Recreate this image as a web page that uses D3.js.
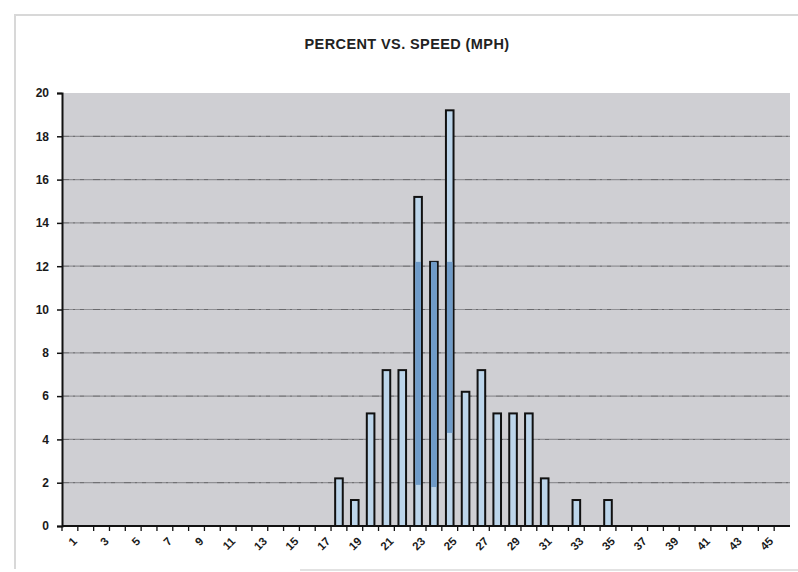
<!DOCTYPE html>
<html>
<head>
<meta charset="utf-8">
<script src="https://cdn.jsdelivr.net/npm/d3@7"></script>
<style>
  body { margin: 0; background: #fff; }
  text { font-family: "Liberation Sans", Arial, sans-serif; }
</style>
</head>
<body>
<svg id="chart" width="798" height="572"></svg>
<script>
// --- Data ---
const speeds = d3.range(1, 47);            // 1..46 mph categories
const speedLabels = speeds.filter(d => d % 2 === 1);
const percentSpeeds = [18, 19, 20, 21, 22, 23, 24, 25, 26, 27, 28, 29, 30, 31, 33, 35];
const percentValues = [2.2, 1.2, 5.2, 7.2, 7.2, 15.2, 12.2, 19.2, 6.2, 7.2, 5.2, 5.2, 5.2, 2.2, 1.2, 1.2];
// darker shaded band seen inside the central bars
const shadeSpeeds = [23, 24, 25];
const shadeLow = [1.9, 1.8, 4.3];
const shadeHigh = [12.2, 12.2, 12.2];
const yTicks = [0, 2, 4, 6, 8, 10, 12, 14, 16, 18, 20];

const bars = percentSpeeds.map((s, i) => ({ speed: s, value: percentValues[i] }));
const shades = shadeSpeeds.map((s, i) => ({ speed: s, lo: shadeLow[i], hi: shadeHigh[i] }));

// --- Setup ---
const svg = d3.select("#chart");
const width = +svg.attr("width");
const height = +svg.attr("height");
const margin = { top: 93, right: 8, bottom: 46, left: 62 };

// faint outer frame from the scan
svg.append("path")
  .attr("d", `M15,${height - 3} V15 H${width}`)
  .attr("fill", "none")
  .attr("stroke", "#d8d8d8")
  .attr("stroke-width", 2);
svg.append("line")
  .attr("x1", 300).attr("x2", width)
  .attr("y1", height - 2).attr("y2", height - 2)
  .attr("stroke", "#e2e2e2")
  .attr("stroke-width", 2);

const x = d3.scaleBand()
  .domain(speeds)
  .range([margin.left, width - margin.right]);

const y = d3.scaleLinear()
  .domain([0, 20])
  .range([height - margin.bottom, margin.top]);

// plot background
svg.append("rect")
  .attr("x", margin.left)
  .attr("y", margin.top)
  .attr("width", width - margin.right - margin.left)
  .attr("height", y(0) - margin.top)
  .attr("fill", "#cfcfd3");

// gridlines
const grid = svg.append("g");
grid.selectAll("line.g")
  .data(yTicks.filter(d => d > 0 && d < 20))
  .join("line")
  .attr("class", "g")
  .attr("x1", margin.left).attr("x2", width - margin.right)
  .attr("y1", d => y(d)).attr("y2", d => y(d))
  .attr("stroke", "#909094")
  .attr("stroke-width", 1.2);
grid.selectAll("line.d")
  .data(yTicks.filter(d => d > 0 && d < 20))
  .join("line")
  .attr("class", "d")
  .attr("x1", margin.left).attr("x2", width - margin.right)
  .attr("y1", d => y(d)).attr("y2", d => y(d))
  .attr("stroke", "#333")
  .attr("stroke-width", 0.8)
  .attr("stroke-dasharray", "7 4 2 5 4 9")
  .attr("opacity", 0.5);

// --- Bars ---
const barW = x.bandwidth() * 0.48;
svg.selectAll(".bar")
  .data(bars)
  .join("rect")
  .attr("class", "bar")
  .attr("x", d => x(d.speed) + (x.bandwidth() - barW) / 2)
  .attr("y", d => y(d.value))
  .attr("width", barW)
  .attr("height", d => y(0) - y(d.value))
  .attr("fill", "#bcd5ea")
  .attr("stroke", "#111")
  .attr("stroke-width", 2);

svg.selectAll(".shade")
  .data(shades)
  .join("rect")
  .attr("class", "shade")
  .attr("x", d => x(d.speed) + (x.bandwidth() - barW) / 2 + 1)
  .attr("y", d => y(d.hi))
  .attr("width", barW - 2)
  .attr("height", d => y(d.lo) - y(d.hi))
  .attr("fill", "#6f9bc8");

// --- Axes ---
const yAxis = svg.append("g")
  .attr("transform", `translate(${margin.left},0)`)
  .call(d3.axisLeft(y).tickValues(yTicks).tickSize(5).tickPadding(8));
yAxis.select(".domain").attr("stroke", "#111").attr("stroke-width", 2);
yAxis.selectAll(".tick line").attr("stroke", "#111").attr("stroke-width", 1.5);
yAxis.selectAll("text")
  .attr("font-size", 12)
  .attr("font-weight", "bold")
  .attr("fill", "#1a1a1a");

const xAxis = svg.append("g")
  .attr("transform", `translate(0,${y(0)})`);
xAxis.append("line")
  .attr("x1", margin.left).attr("x2", width - margin.right)
  .attr("stroke", "#111").attr("stroke-width", 2);
xAxis.selectAll(".xt")
  .data(speeds)
  .join("line")
  .attr("class", "xt")
  .attr("x1", d => x(d)).attr("x2", d => x(d))
  .attr("y1", 0).attr("y2", 5)
  .attr("stroke", "#111").attr("stroke-width", 1.3);
xAxis.selectAll(".xl")
  .data(speedLabels)
  .join("text")
  .attr("class", "xl")
  .attr("transform", d => `translate(${x(d) + x.bandwidth() / 2 + 5},${13}) rotate(-45)`)
  .attr("text-anchor", "end")
  .attr("dy", "0.35em")
  .attr("font-size", 11.5)
  .attr("font-weight", "bold")
  .attr("fill", "#1a1a1a")
  .text(d => d);

// --- Title ---
svg.append("text")
  .attr("x", 407)
  .attr("y", 49)
  .attr("text-anchor", "middle")
  .attr("font-size", 14.5)
  .attr("font-weight", "bold")
  .attr("letter-spacing", 0.4)
  .attr("fill", "#222")
  .text("PERCENT VS. SPEED (MPH)");
</script>
</body>
</html>
